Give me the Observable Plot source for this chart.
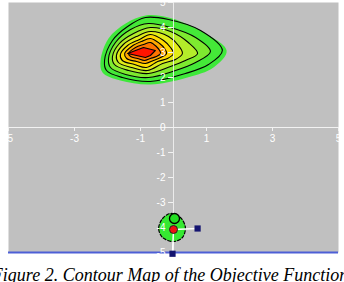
<!DOCTYPE html>
<html>
<head>
<meta charset="utf-8">
<script src="https://cdn.jsdelivr.net/npm/d3@7"></script>
<script src="https://cdn.jsdelivr.net/npm/@observablehq/plot@0.6"></script>
<style>
  html, body { margin: 0; padding: 0; background: #ffffff; width: 344px; height: 282px; overflow: hidden; }
  #wrap { position: relative; width: 344px; height: 282px; }
  #caption {
    position: absolute; top: 265.5px; left: 170px; transform: translateX(-50%);
    white-space: nowrap; font-family: "Liberation Serif", "Times New Roman", serif;
    font-style: italic; font-size: 18px; line-height: 18px; color: #000;
  }
</style>
</head>
<body>
<div id="wrap"><div id="chart"></div><div id="caption">Figure 2. Contour Map of the Objective Function</div></div>
<script>
// Tick values
const xTicks = [-5, -3, -1, 1, 3, 5];
const yTicks = [5, 4, 3, 2, 1, 0, -1, -2, -3, -4, -5];

// Contour rings (outer edge to peak), [x, y]
const edgeRing = [[-2.21,2.68],[-1.97,3.56],[-1.45,4.16],[-0.85,4.48],[-0.15,4.40],[0.73,3.92],[1.61,3.08],[1.21,2.40],[0.42,2.00],[-0.70,1.72],[-1.61,1.88],[-2.15,2.20]];
const level1 = [[-2.09,2.68],[-1.85,3.48],[-1.39,4.04],[-0.85,4.40],[-0.15,4.32],[0.82,3.88],[1.48,3.08],[1.06,2.52],[0.36,2.16],[-0.70,1.84],[-1.55,2.00],[-2.03,2.28]];
const level2 = [[-1.97,2.76],[-1.76,3.40],[-1.30,3.92],[-0.76,4.16],[-0.09,4.00],[0.67,3.60],[1.12,3.04],[0.67,2.60],[0.06,2.28],[-0.76,2.00],[-1.45,2.12],[-1.91,2.40]];
const level3 = [[-1.85,2.84],[-1.64,3.36],[-1.21,3.76],[-0.70,4.00],[-0.09,3.84],[0.45,3.40],[0.73,2.96],[0.36,2.68],[-0.09,2.44],[-0.76,2.16],[-1.36,2.28],[-1.79,2.52]];
const level4 = [[-1.73,2.88],[-1.52,3.32],[-1.12,3.64],[-0.70,3.84],[-0.15,3.64],[0.15,3.28],[0.27,2.96],[0.06,2.72],[-0.33,2.56],[-0.79,2.28],[-1.27,2.40],[-1.67,2.60]];
const level5 = [[-1.61,2.92],[-1.39,3.28],[-1.03,3.52],[-0.70,3.72],[-0.30,3.48],[-0.09,3.20],[0.00,2.96],[-0.18,2.76],[-0.48,2.64],[-0.82,2.40],[-1.18,2.52],[-1.55,2.68]];
const level6 = [[-1.48,2.96],[-1.27,3.24],[-0.97,3.44],[-0.70,3.56],[-0.42,3.36],[-0.27,3.16],[-0.21,2.96],[-0.39,2.80],[-0.61,2.68],[-0.85,2.56],[-1.12,2.64],[-1.42,2.76]];
const level7 = [[-1.36,2.96],[-1.15,3.20],[-0.91,3.32],[-0.70,3.40],[-0.52,3.24],[-0.42,3.08],[-0.39,2.96],[-0.52,2.84],[-0.70,2.76],[-0.88,2.68],[-1.09,2.76],[-1.30,2.84]];
const peak = [[-1.39,2.96],[-0.91,3.20],[-0.55,3.08],[-0.70,2.88],[-0.85,2.80]];

// Lower basin and search points
const basin = [[-0.45,-4.04],[-0.33,-3.64],[-0.09,-3.44],[0.21,-3.60],[0.36,-4.00],[0.27,-4.40],[0.00,-4.56],[-0.33,-4.40]];
const greenPoint = [[0.03, -3.64]];
const bestPoint = [[0.0, -4.08]];
const squarePoints = [[0.73, -4.04], [-0.03, -5.05]];

const ringFills = ["#3ee83a", "#44e838", "#7eea30", "#b4ec2a", "#e2ec18", "#ffd800", "#ffa800", "#ff7400"];
const rings = [edgeRing, level1, level2, level3, level4, level5, level6, level7];

const links = squarePoints.map(s => ({x1: bestPoint[0][0], y1: bestPoint[0][1], x2: s[0], y2: s[1]}));

const marks = [
  Plot.frame({fill: "#c0c0c0", stroke: null}),
  ...rings.map((r, i) => Plot.line(r, {
    x: d => d[0], y: d => d[1], curve: "catmull-rom-closed",
    fill: ringFills[i], stroke: i === 0 ? "none" : "#000", strokeWidth: 1.1
  })),
  Plot.line(peak, {x: d => d[0], y: d => d[1], curve: "linear-closed", fill: "#ff1400", stroke: "#000", strokeWidth: 1.1}),
  // axes
  Plot.ruleX([0], {stroke: "#f2f2f2", strokeWidth: 1, strokeOpacity: 0.85}),
  Plot.ruleY([0], {stroke: "#f2f2f2", strokeWidth: 1}),
  Plot.ruleY(yTicks, {x1: -0.15, x2: 0, stroke: "#f2f2f2", strokeWidth: 1}),
  Plot.ruleX(xTicks, {y1: 0, y2: -0.16, stroke: "#f2f2f2", strokeWidth: 1}),
  Plot.ruleY([-5], {stroke: "#4d5fd6", strokeWidth: 2}),
  // basin
  Plot.line(basin, {x: d => d[0], y: d => d[1], curve: "catmull-rom-closed", fill: "#36e832", stroke: "#000", strokeWidth: 1.2, strokeDasharray: "3,2"}),
  Plot.link(links, {x1: "x1", y1: "y1", x2: "x2", y2: "y2", stroke: "#ffffff", strokeWidth: 1.5}),
  Plot.dot(greenPoint, {x: d => d[0], y: d => d[1], r: 5, fill: "#22dd22", stroke: "#000", strokeWidth: 1.3}),
  Plot.dot(bestPoint, {x: d => d[0], y: d => d[1], r: 4, fill: "#ee1111", stroke: "#222", strokeWidth: 1}),
  Plot.dot(squarePoints, {x: d => d[0], y: d => d[1], symbol: "square", r: 3.5, fill: "#141470", stroke: null}),
  // tick labels
  Plot.text(yTicks, {x: 0, y: d => d, text: d => String(d), dx: -8, textAnchor: "end", fill: "#ffffff", fontSize: 10}),
  Plot.text(xTicks, {x: d => d, y: 0, text: d => String(d), dy: 11, fill: "#ffffff", fontSize: 10})
];

const chart = Plot.plot({
  width: 344,
  height: 256,
  marginLeft: 8,
  marginRight: 6,
  marginTop: 2,
  marginBottom: 4,
  x: {domain: [-5, 5], axis: null},
  y: {domain: [-5, 5], axis: null},
  style: {fontFamily: "'Liberation Sans', Arial, sans-serif", background: "#ffffff", overflow: "visible"},
  marks
});
document.getElementById("chart").appendChild(chart);
</script>
</body>
</html>
